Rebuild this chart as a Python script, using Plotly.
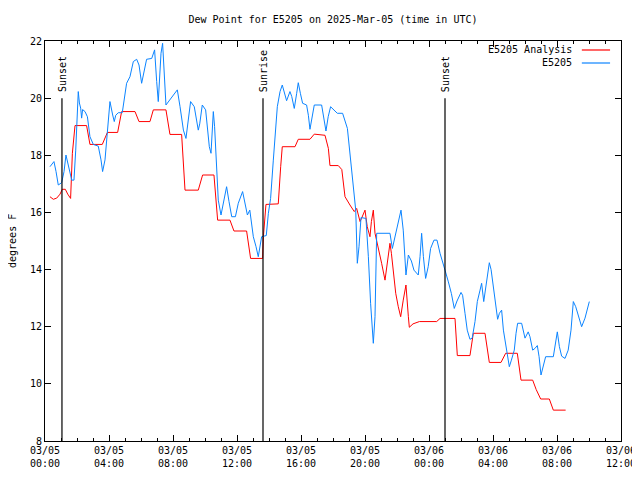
import pandas as pd
import plotly.graph_objects as go

BASE = pd.Timestamp("2025-03-05 00:00")

# Observed dew point (E5205): hours after 03/05 00:00 UTC, degrees F
obs_hours = [0.31, 0.56, 0.69, 0.83, 1.04, 1.19, 1.31, 1.46, 1.56, 1.67, 1.81, 1.92, 2.08, 2.15, 2.23, 2.29,
             2.35, 2.5, 2.65, 2.81, 3.02, 3.33, 3.5, 3.6, 3.75, 3.92, 4.06, 4.23, 4.33, 4.42, 4.58, 4.83,
             5.0, 5.1, 5.31, 5.52, 5.73, 5.875, 6.04, 6.19, 6.35, 6.67, 6.85, 6.98, 7.08, 7.25, 7.35, 7.56,
             8.27, 8.44, 8.65, 8.81, 8.96, 9.1, 9.33, 9.58, 9.67, 9.83, 10.04, 10.27, 10.375, 10.52, 10.6,
             10.73, 10.83, 11.0, 11.15, 11.35, 11.5, 11.67, 11.9, 12.08, 12.35, 12.5, 12.65, 12.8, 13.02,
             13.19, 13.33, 13.54, 13.83, 13.96, 14.1, 14.27, 14.375, 14.52, 14.69, 14.83, 15.1, 15.31,
             15.42, 15.58, 15.73, 15.83, 15.96, 16.1, 16.35, 16.46, 16.56, 16.7, 16.83, 17.29, 17.42,
             17.56, 17.7, 17.85, 18.27, 18.6, 18.9, 19.1, 19.27, 19.42, 19.52, 19.625, 19.75, 20.06,
             20.21, 20.35, 20.52, 20.625, 20.73, 21.56, 21.71, 21.875, 22.08, 22.25, 22.39, 22.56, 22.71,
             22.9, 23.06, 23.33, 23.44, 23.54, 23.65, 23.79, 23.95, 24.1, 24.31, 24.5, 24.69, 24.85, 25.0,
             25.21, 25.4, 25.58, 25.75, 26.0, 26.1, 26.25, 26.39, 26.56, 26.7, 26.875, 27.02, 27.19,
             27.29, 27.42, 27.56, 27.65, 27.77, 27.88, 28.02, 28.17, 28.29, 28.4, 28.54, 28.65, 28.79,
             28.9, 29.02, 29.15, 29.33, 29.44, 29.54, 29.79, 30.0, 30.2, 30.31, 30.48, 30.62, 30.77,
             30.88, 31.0, 31.15, 31.29, 31.77, 31.92, 32.02, 32.15, 32.29, 32.5, 32.7, 32.875, 33.02,
             33.17, 33.33, 33.54, 33.75, 34.02]
obs_values = [17.6, 17.78, 17.43, 16.96, 17.04, 17.43, 18.01, 17.66, 17.43, 17.13, 17.13, 18.18, 20.23, 19.83, 19.65, 19.3,
              19.6, 19.53, 19.35, 18.65, 18.38, 18.32, 17.84, 17.43, 17.84, 19.12, 19.88, 19.41, 19.18, 19.4, 19.49, 19.49,
              20.17, 20.52, 20.75, 21.28, 21.36, 21.16, 20.52, 20.93, 21.36, 21.39, 21.69, 20.58, 19.88, 21.57, 21.92, 19.76,
              20.29, 19.7, 18.88, 18.59, 19.35, 19.88, 19.7, 18.88, 19.1, 19.76, 19.59, 18.3, 18.07, 19.53, 19.0,
              17.6, 16.43, 15.91, 16.32, 16.9, 16.38, 15.85, 15.85, 16.32, 16.73, 16.32, 15.91, 16.08, 15.15,
              14.8, 14.45, 15.15, 15.19, 15.97, 16.49, 17.83, 18.77, 19.7, 20.23, 20.46, 19.91, 20.23,
              20.06, 19.64, 20.17, 20.54, 20.17, 19.82, 19.76, 19.4, 18.91, 19.4, 19.76, 19.76, 19.35,
              18.85, 19.35, 19.7, 19.47, 19.47, 18.94, 17.83, 17.02, 16.08, 14.22, 14.8, 15.82, 15.79,
              14.45, 12.82, 11.42, 12.35, 15.27, 15.27, 14.74, 15.15, 15.73, 16.08, 15.38, 13.81, 14.51,
              14.3, 13.98, 13.81, 14.45, 15.27, 14.45, 13.69, 14.1, 14.74, 15.03, 15.03, 14.57, 14.3, 13.98,
              13.57, 13.16, 12.64, 12.9, 13.2, 13.1, 12.47, 11.88, 11.56, 11.6, 12.18, 12.88, 13.28,
              13.52, 12.88, 13.4, 13.81, 14.24, 14.0, 13.4, 12.7, 12.26, 12.47, 12.58, 11.88, 11.42,
              10.95, 10.6, 10.83, 11.18, 11.77, 12.12, 12.12, 11.6, 11.82, 11.65, 11.18, 11.24, 11.34,
              10.95, 10.31, 10.6, 10.95, 10.95, 11.53, 11.82, 11.3, 10.97, 10.89, 11.18, 11.88, 12.88,
              12.7, 12.41, 12.0, 12.3, 12.88]

# Analysis dew point (E5205 Analysis)
ana_hours = [0.31, 0.52, 0.73, 0.94, 1.08, 1.27, 1.42, 1.6, 1.71, 1.875, 2.6, 2.81, 3.58, 3.9, 4.54, 4.79,
             5.625, 5.875, 6.56, 6.77, 7.56, 7.81, 8.54, 8.75, 9.58, 9.85, 10.56, 10.79, 11.56, 11.81,
             12.6, 12.85, 13.6, 13.65, 13.81, 14.58, 14.73, 14.83, 15.625, 15.83, 16.56, 16.83, 17.5,
             17.71, 17.81, 18.33, 18.55, 18.75, 19.06, 19.33, 19.48, 19.69, 19.79, 20.0, 20.14, 20.31,
             20.4, 20.52, 20.625, 20.83, 21.04, 21.25, 21.4, 21.56, 21.65, 21.77, 21.92, 22.08, 22.23,
             22.39, 22.56, 22.71, 22.77, 23.0, 23.4, 24.48, 24.69, 25.625, 25.77, 26.56, 26.67, 26.77,
             27.5, 27.65, 27.77, 28.5, 28.79, 29.52, 29.62, 29.75, 30.48, 30.7, 30.98, 31.52, 31.77, 32.54]
ana_values = [16.55, 16.46, 16.5, 16.64, 16.81, 16.81, 16.64, 16.49, 18.07, 19.04, 19.04, 18.38, 18.38, 18.8, 18.8, 19.53,
              19.53, 19.18, 19.18, 19.59, 19.59, 18.73, 18.73, 16.78, 16.78, 17.31, 17.31, 15.73, 15.73, 15.35,
              15.35, 14.39, 14.39, 15.15, 16.28, 16.3, 17.6, 18.3, 18.3, 18.56, 18.56, 18.74, 18.7,
              18.24, 17.64, 17.64, 17.5, 16.55, 16.26, 16.03, 16.14, 15.68, 15.8, 16.08, 15.5, 15.15,
              15.68, 16.08, 15.27, 14.8, 14.22, 13.63, 14.22, 14.92, 14.57, 13.87, 13.17, 12.7, 12.35,
              12.93, 13.46, 12.35, 11.98, 12.1, 12.18, 12.18, 12.29, 12.29, 10.99, 10.99, 11.42, 11.77,
              11.77, 11.18, 10.75, 10.75, 11.07, 11.07, 10.7, 10.13, 10.13, 9.8, 9.47, 9.47, 9.08, 9.08]

# Sun events
event_hours = [1.06, 13.625, 25.0]
event_labels = ["Sunset", "Sunrise", "Sunset"]

# Axis ticks
x_tick_hours = [0, 4, 8, 12, 16, 20, 24, 28, 32, 36]
x_tick_labels = ["03/05<br>00:00", "03/05<br>04:00", "03/05<br>08:00", "03/05<br>12:00", "03/05<br>16:00",
                 "03/05<br>20:00", "03/06<br>00:00", "03/06<br>04:00", "03/06<br>08:00", "03/06<br>12:00"]
y_ticks = [8, 10, 12, 14, 16, 18, 20, 22]


def to_time(hours):
    return list(BASE + pd.to_timedelta(hours, unit="h"))


FONT = "DejaVu Sans Mono"
RED = "#ff0000"
BLUE = "#0b84ff"

# page body adds ~8px offset: size the figure so it fits the 640x480 window
W, H = 632, 472

fig = go.Figure()
fig.add_trace(go.Scatter(x=to_time(ana_hours), y=ana_values, mode="lines", name="E5205 Analysis",
                         line=dict(color=RED, width=1), showlegend=False))
fig.add_trace(go.Scatter(x=to_time(obs_hours), y=obs_values, mode="lines", name="E5205",
                         line=dict(color=BLUE, width=1), showlegend=False))

for t, lab in zip(to_time(event_hours), event_labels):
    fig.add_shape(type="line", xref="x", yref="y", x0=t, x1=t, y0=8, y1=20,
                  line=dict(color="black", width=1.2))
    fig.add_annotation(x=t, y=20, xref="x", yref="y", text=lab, textangle=-90, showarrow=False,
                       xanchor="center", yanchor="bottom", yshift=4,
                       font=dict(family=FONT, size=10, color="black"))

# Legend drawn gnuplot-style (text right-aligned, sample on the right)
for i, (name, col) in enumerate([("E5205 Analysis", RED), ("E5205", BLUE)]):
    yy = 0.9775 - i * 0.0325
    fig.add_annotation(x=0.918, y=yy, xref="paper", yref="paper", text=name, showarrow=False,
                       xanchor="right", yanchor="middle", font=dict(family=FONT, size=10, color="black"))
    fig.add_shape(type="line", xref="paper", yref="paper", x0=0.932, x1=0.981, y0=yy, y1=yy,
                  line=dict(color=col, width=1.2))

fig.add_annotation(x=-0.0573, y=0.5, xref="paper", yref="paper", text="degrees F", textangle=-90,
                   xanchor="center", yanchor="middle",
                   showarrow=False, font=dict(family=FONT, size=10, color="black"))

fig.update_layout(
    width=W, height=H,
    margin=dict(l=37, r=19, t=33, b=39, autoexpand=False),
    paper_bgcolor="white", plot_bgcolor="white",
    font=dict(family=FONT, size=10, color="black"),
    title=dict(text="Dew Point for E5205 on 2025-Mar-05 (time in UTC)", x=0.5, xref="paper",
               y=1 - 11 / H, yref="container", xanchor="center", yanchor="middle",
               font=dict(family=FONT, size=10, color="black"), automargin=False),
)
fig.update_xaxes(
    type="date", range=to_time([0, 36]), automargin=False,
    tickmode="array", tickvals=to_time(x_tick_hours), ticktext=x_tick_labels,
    ticks="inside", ticklen=6, tickcolor="black", tickwidth=1,
    minor=dict(ticks="inside", ticklen=3, tickcolor="black", dtick=3600000,
               tick0=BASE, showgrid=False),
    showline=True, linecolor="black", linewidth=1, mirror="ticks",
    showgrid=False, zeroline=False, tickfont=dict(family=FONT, size=10, color="black"),
)
fig.update_yaxes(
    range=[8, 22], tickmode="array", tickvals=y_ticks, ticktext=[str(v) for v in y_ticks],
    ticks="inside", ticklen=6, tickcolor="black", tickwidth=1, automargin=False,
    showline=True, linecolor="black", linewidth=1, mirror="ticks",
    showgrid=False, zeroline=False, tickfont=dict(family=FONT, size=10, color="black"),
)

fig.write_html("out.html")
